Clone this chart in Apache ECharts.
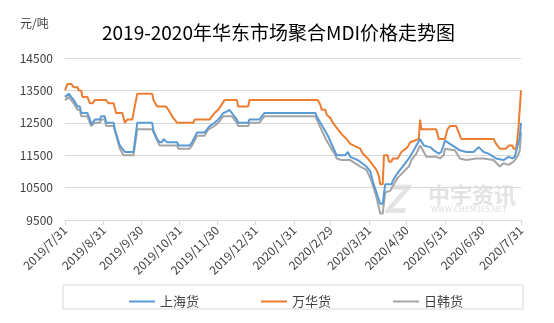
<!DOCTYPE html>
<html>
<head>
<meta charset="utf-8">
<script src="https://cdn.jsdelivr.net/npm/echarts@6/dist/echarts.min.js"></script>
<style>html,body{margin:0;padding:0;background:#fff}#c{width:554px;height:323px}</style>
</head>
<body>
<div id="c"></div>
<script>
// Day offsets from 2019/7/31 and tick labels
const tickDays = [0, 31, 61, 92, 122, 153, 184, 213, 244, 274, 305, 335, 366];
const tickLabels = ['2019/7/31','2019/8/31','2019/9/30','2019/10/31','2019/11/30','2019/12/31','2020/1/31','2020/2/29','2020/3/31','2020/4/30','2020/5/31','2020/6/30','2020/7/31'];
const seriesNames = ['上海货', '万华货', '日韩货'];

// [dayOffset, price]
const shanghai = [[0,13300],[3,13400],[4,13400],[7,13200],[10,13000],[12,13000],[13,12800],[18,12800],[20,12600],[21,12450],[24,12600],[28,12600],[29,12700],[32,12700],[33,12500],[39,12500],[40,12300],[44,11800],[46,11700],[48,11600],[55,11600],[58,12500],[70,12500],[71,12250],[74,12000],[76,11900],[78,11900],[79,12000],[80,12000],[82,11900],[90,11900],[91,11800],[100,11800],[102,11900],[104,12050],[106,12200],[112,12200],[114,12300],[116,12400],[120,12500],[123,12600],[127,12800],[130,12850],[132,12900],[134,12800],[138,12600],[139,12500],[147,12500],[148,12600],[156,12600],[158,12700],[160,12800],[201,12800],[202,12700],[205,12500],[211,12100],[218,11500],[225,11500],[227,11600],[229,11450],[235,11350],[242,11150],[245,11000],[247,10700],[250,10350],[253,10000],[255,10000],[257,10600],[262,10600],[263,10700],[266,10900],[270,11100],[273,11250],[276,11400],[280,11650],[282,11800],[285,12000],[288,11800],[293,11750],[296,11650],[300,11550],[302,11600],[305,11950],[309,11850],[313,11750],[317,11650],[322,11600],[328,11600],[332,11750],[336,11600],[340,11550],[344,11450],[346,11400],[352,11350],[356,11450],[359,11400],[361,11450],[363,11750],[365,12050],[366,12500]];
const wanhua = [[0,13500],[2,13700],[5,13700],[7,13600],[10,13600],[11,13500],[13,13500],[14,13300],[18,13300],[20,13100],[22,13100],[24,13200],[33,13200],[35,13100],[39,13100],[41,12800],[46,12800],[48,12500],[50,12600],[54,12600],[58,13400],[70,13400],[71,13200],[74,13000],[81,13000],[83,12900],[86,12700],[90,12500],[103,12500],[104,12600],[116,12600],[118,12700],[120,12800],[123,12900],[128,13200],[138,13200],[139,13000],[147,13000],[148,13200],[203,13200],[205,13050],[206,12900],[209,12900],[210,12750],[213,12650],[215,12500],[218,12350],[222,12150],[226,12000],[229,11850],[237,11700],[239,11550],[243,11400],[247,11200],[250,11050],[252,10850],[253,10600],[255,10600],[256,11500],[259,11500],[260,11300],[262,11300],[263,11400],[267,11400],[270,11600],[275,11750],[277,11900],[284,12000],[285,12600],[286,12300],[298,12300],[300,12000],[305,12000],[307,12300],[309,12400],[314,12400],[318,12000],[344,12000],[346,11850],[349,11700],[354,11700],[356,11800],[359,11800],[360,11700],[362,11700],[363,11950],[364,12350],[366,13500]];
const rihan = [[0,13200],[3,13300],[4,13300],[7,13100],[10,12900],[12,12900],[13,12700],[18,12700],[20,12500],[21,12400],[24,12500],[28,12500],[29,12600],[32,12600],[33,12400],[39,12400],[44,11700],[47,11500],[55,11500],[58,12300],[70,12300],[74,11950],[76,11800],[90,11800],[91,11700],[100,11700],[102,11800],[106,12100],[112,12100],[115,12300],[120,12400],[123,12500],[127,12700],[134,12700],[138,12500],[139,12400],[147,12400],[148,12500],[156,12500],[158,12600],[160,12700],[201,12700],[205,12350],[210,11950],[217,11500],[218,11400],[222,11350],[229,11350],[237,11150],[242,11050],[246,10700],[250,10200],[253,9700],[255,9700],[257,10350],[261,10400],[263,10550],[267,10800],[272,11000],[276,11150],[278,11350],[282,11550],[285,11800],[288,11600],[290,11450],[298,11450],[301,11400],[304,11500],[305,11700],[313,11650],[317,11400],[322,11350],[330,11400],[336,11400],[344,11350],[349,11150],[352,11250],[356,11200],[360,11300],[363,11450],[365,11650],[366,12200]];

const FONT = '"Noto Sans CJK SC", "Noto Sans", sans-serif';
const chart = echarts.init(document.getElementById('c'), null, {renderer: 'canvas'});
chart.setOption({
  animation: false,
  backgroundColor: '#fff',
  textStyle: {fontFamily: FONT},
  title: {
    text: '2019-2020年华东市场聚合MDI价格走势图',
    left: 97, top: 18,
    textStyle: {fontSize: 19, fontWeight: 'normal', color: '#000', fontFamily: FONT}
  },
  graphic: [
    {type: 'text', left: 20, top: 17, z: 10, style: {text: '元/吨', fontSize: 12, fill: '#404040', fontFamily: FONT}},
    {type: 'rect', shape: {x: 63, y: 285, width: 460, height: 24}, style: {fill: 'none', stroke: '#d9d9d9', lineWidth: 1}, z: 0},
    {type: 'text', left: 383, top: 180, z: 0, style: {text: 'Z', fontSize: 38, fontWeight: 'bold', fontStyle: 'italic', fill: '#e3e3e3', fontFamily: FONT}},
    {type: 'text', left: 428, top: 184, z: 0, style: {text: '中宇资讯', fontSize: 22, fontWeight: 'bold', fill: '#e3e3e3', fontFamily: FONT}},
    {type: 'text', left: 431, top: 205, z: 0, style: {text: 'WWW.CHEM365.NET', fontSize: 8, fill: '#dedede', fontFamily: FONT}}
  ],
  legend: {
    data: seriesNames,
    left: 124, top: 290,
    itemWidth: 26, itemHeight: 12, itemGap: 62,
    icon: 'path://M0,5 L26,5 L26,7 L0,7 Z',
    textStyle: {fontSize: 13, color: '#404040', fontFamily: FONT}
  },
  grid: {left: 65, right: 33, top: 58, bottom: 103, containLabel: false},
  xAxis: {
    type: 'value', min: 0, max: 366,
    axisLine: {show: true, lineStyle: {color: '#d9d9d9', width: 1}},
    axisTick: {show: true, length: 5, lineStyle: {color: '#d9d9d9'}, customValues: tickDays},
    axisLabel: {
      customValues: tickDays, rotate: 45, fontSize: 12, color: '#404040', margin: 8, fontFamily: FONT,
      formatter: function (v) { const i = tickDays.indexOf(Math.round(v)); return i >= 0 ? tickLabels[i] : ''; }
    },
    splitLine: {show: false}
  },
  yAxis: {
    type: 'value', min: 9500, max: 14500, interval: 1000,
    axisLine: {show: false}, axisTick: {show: false},
    axisLabel: {fontSize: 12, color: '#404040', margin: 12, fontFamily: FONT, formatter: function (v) { return String(v); }},
    splitLine: {lineStyle: {color: '#d9d9d9', width: 1}}
  },
  series: [
    {name: seriesNames[0], type: 'line', data: shanghai, showSymbol: false, symbol: 'none', lineStyle: {width: 2, color: '#5b9bd5'}, itemStyle: {color: '#5b9bd5'}, z: 3},
    {name: seriesNames[1], type: 'line', data: wanhua, showSymbol: false, symbol: 'none', lineStyle: {width: 2, color: '#ed7d31'}, itemStyle: {color: '#ed7d31'}, z: 2},
    {name: seriesNames[2], type: 'line', data: rihan, showSymbol: false, symbol: 'none', lineStyle: {width: 2, color: '#a5a5a5'}, itemStyle: {color: '#a5a5a5'}, z: 1}
  ]
});
</script>
</body>
</html>
